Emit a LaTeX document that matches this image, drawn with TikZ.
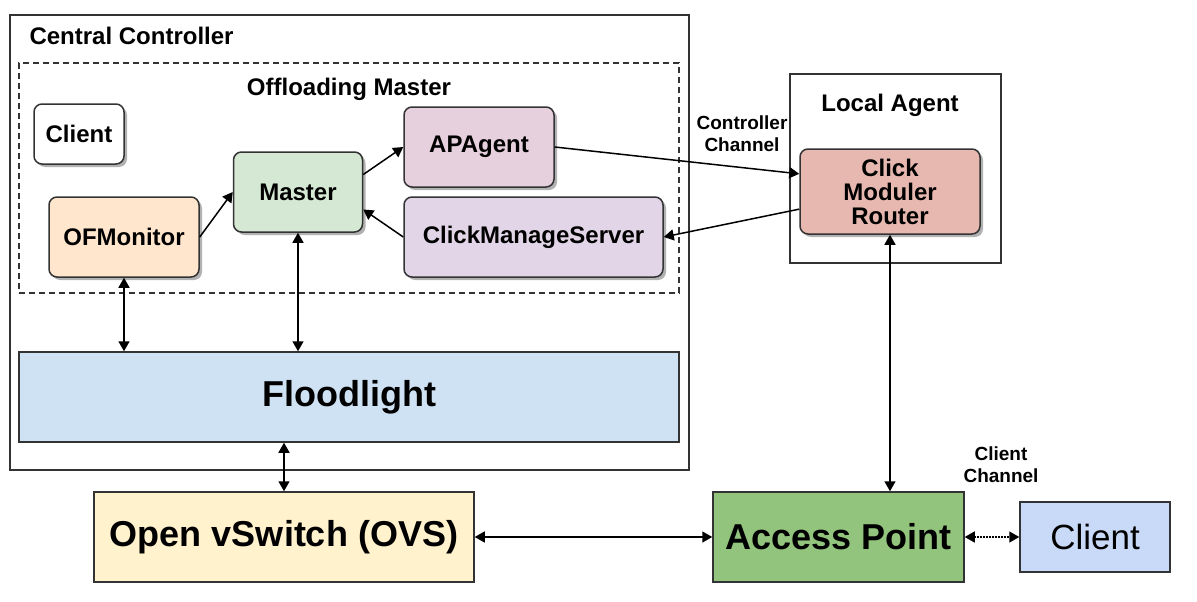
\documentclass[tikz,border=0pt]{standalone}
\usepackage{fontspec}
\setmainfont{Liberation Sans}
\usetikzlibrary{arrows.meta, shadows}

\definecolor{edgegray}{HTML}{333333}
\definecolor{ofmonfill}{HTML}{FFE6CC}
\definecolor{masterfill}{HTML}{D5E8D4}
\definecolor{apagentfill}{HTML}{E6D0DE}
\definecolor{cmsfill}{HTML}{E1D5E7}
\definecolor{cmrfill}{HTML}{E6B8AF}
\definecolor{floodfill}{HTML}{CFE2F3}
\definecolor{ovsfill}{HTML}{FFF2CC}
\definecolor{apfill}{HTML}{93C47D}
\definecolor{clientfill}{HTML}{C9DAF8}

\begin{document}
\begin{tikzpicture}
  [x=1pt, y=-1pt,
  font=\bfseries\fontsize{24}{24}\selectfont,
  frame/.style={rectangle, draw=edgegray, line width=1.5pt, inner sep=0pt},
  block/.style={rectangle, draw=edgegray, line width=1.5pt, rounded corners=8pt,
  align=center, inner sep=0pt,
  drop shadow={shadow xshift=3pt, shadow yshift=-3pt, fill=black!30, opacity=1}},
  bigbox/.style={frame, font=\bfseries\fontsize{36}{38}\selectfont},
  chan/.style={align=center, font=\bfseries\fontsize{19}{22}\selectfont},
  line/.style={draw, line width=1.5pt, -{Triangle[length=10pt,width=11pt]}},
  both/.style={line, {Triangle[length=10pt,width=11pt]}-{Triangle[length=10pt,width=11pt]}}]

  \useasboundingbox (0,0) rectangle (1197,602);

  \node [frame, minimum width=679, minimum height=455] (ctrl) at (349.5,242.5) {};
  \node [frame, dashed, dash pattern=on 6pt off 4pt,
    minimum width=660, minimum height=230] (offl) at (349,178) {};
  \node [frame, minimum width=211, minimum height=189] (local) at (895.5,168.5) {};

  \node [anchor=west] (cctitle) at (26,36) {Central Controller};
  \node (offltitle) at (349,89) {Offloading Master};
  \node (latitle) at (890,105) {Local Agent};

  \node [block, fill=white, minimum width=90, minimum height=60] (client1) at (79,134) {Client};
  \node [block, fill=masterfill, minimum width=129, minimum height=80] (master) at (298,192) {Master};
  \node [block, fill=apagentfill, minimum width=150, minimum height=80] (apagent) at (479,147) {APAgent};
  \node [block, fill=ofmonfill, minimum width=150, minimum height=80] (ofmon) at (124,237) {OFMonitor};
  \node [block, fill=cmsfill, minimum width=259, minimum height=80] (cms) at (533.5,237) {ClickManageServer};
  \node [block, fill=cmrfill, minimum width=180, minimum height=85] (cmr) at (890,191.5) {Click\\Moduler\\Router};

  \node [bigbox, fill=floodfill, minimum width=660, minimum height=90] (flood) at (349,397) {Floodlight};
  \node [bigbox, fill=ovsfill, minimum width=380, minimum height=90] (ovs) at (284,537) {Open vSwitch (OVS)};
  \node [bigbox, fill=apfill, minimum width=251, minimum height=90] (ap) at (838.5,537) {Access Point};
  \node [frame, fill=clientfill, minimum width=150, minimum height=70,
    font=\fontsize{35}{38}\selectfont] (client2) at (1095,537) {Client};

  \node [chan] (ctrlchan) at (742,134) {Controller\\Channel};
  \node [chan] (clichan) at (1001,465) {Client\\Channel};

  \begin{scope}[every path/.style=line]
    \path (ofmon.east) -- (master.west);
    \path (master.15) -- (apagent.west);
    \path (cms.west) -- (master.-15);
    \path (apagent.east) -- (cmr.169);
    \path (cmr.191) -- (cms.east);
  \end{scope}
  \begin{scope}[every path/.style=both]
    \path (ofmon.south) -- (ofmon.south |- flood.north);
    \path (master.south) -- (master.south |- flood.north);
    \path (ovs.north |- flood.south) -- (ovs.north);
    \path (cmr.south) -- (cmr.south |- ap.north);
    \path (ovs.east) -- (ap.west);
    \path [dash pattern=on 1.5pt off 1.5pt] (ap.east) -- (client2.west);
  \end{scope}
\end{tikzpicture}
\end{document}
